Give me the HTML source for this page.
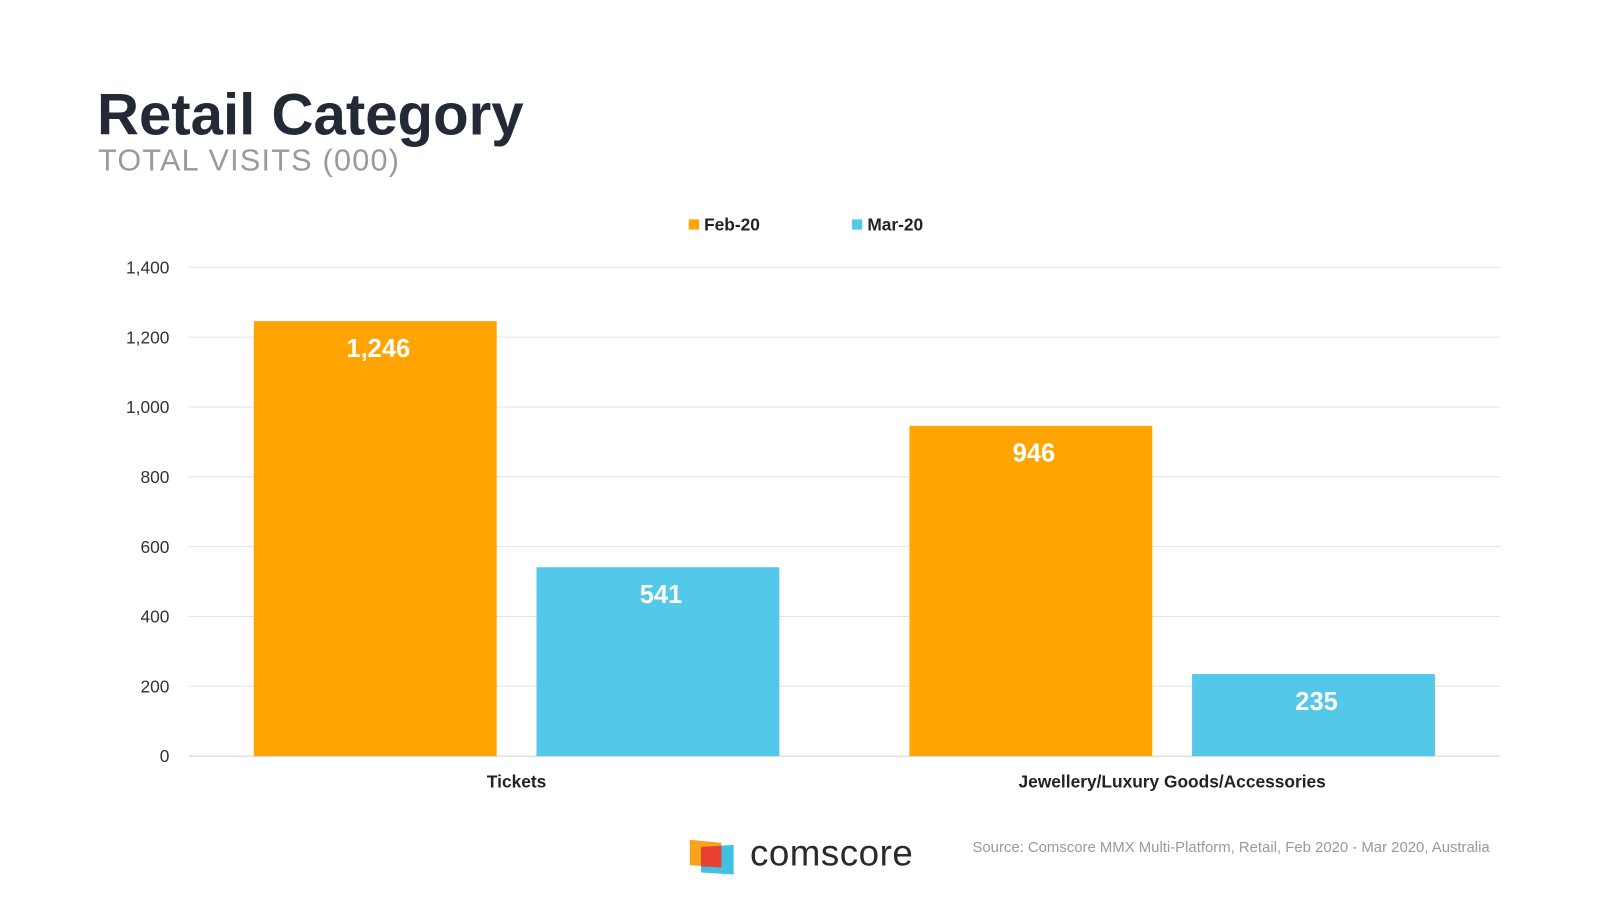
<!DOCTYPE html>
<html><head><meta charset="utf-8"><style>
body{margin:0;width:1600px;height:900px;background:#fff;font-family:"Liberation Sans",sans-serif;overflow:hidden}
#wrap{position:absolute;left:0;top:0;width:1568px;height:882px;transform:scale(1.0204);transform-origin:0 0}
#title{position:absolute;left:95px;top:80px;font-size:57px;font-weight:bold;color:#232a36;letter-spacing:0px}
#sub{position:absolute;left:96px;top:141px;font-size:30px;color:#9a9a9a;letter-spacing:1.2px}
#src{position:absolute;left:953px;top:823px;font-size:14.6px;color:#9a9a9a}
#logo-text{position:absolute;left:735px;top:815px;font-size:36px;color:#2a2a2a;letter-spacing:0.5px}
</style></head><body>
<div id="wrap">
<div id="title">Retail Category</div>
<div id="sub">TOTAL VISITS (000)</div>
<svg id="chart" width="1568" height="882" style="position:absolute;left:0;top:0"></svg>
<svg width="50" height="40" style="position:absolute;left:675px;top:820px">
<polygon points="1,3 32,6 32,30 1,28" fill="#f9a21b"/>
<polygon points="12,10 44,8 44,37 12,35" fill="#42c0e4"/>
<polygon points="12,10 32,9 32,30 12,29" fill="#e84133"/>
</svg>
<div id="logo-text">comscore</div>
<div id="src">Source: Comscore MMX Multi-Platform, Retail, Feb 2020 - Mar 2020, Australia</div>
</div>
<script>
const categories=["Tickets","Jewellery/Luxury Goods/Accessories"];
const feb=[1246,946];
const mar=[541,235];
const seriesNames=["Feb-20","Mar-20"];
const ticks=[0,200,400,600,800,1000,1200,1400];
const colors=["#ffa400","#53c8e8"];
const svg=document.getElementById('chart');
const NS="http://www.w3.org/2000/svg";
const x0=185,x1=1470,yb=741,yt=262,ymax=1400;
const y=v=>yb-(v/ymax)*(yb-yt);
function mk(t,a,p){const e=document.createElementNS(NS,t);for(const k in a)e.setAttribute(k,a[k]);(p||svg).appendChild(e);return e;}
ticks.forEach(t=>{
  const l=mk('line',{x1:x0,x2:x1,y1:y(t),y2:y(t),stroke:t===0?'#d0d0d0':'#e2e2e2','stroke-width':1});
  
  
  const tx=mk('text',{x:166,y:y(t)+6,'text-anchor':'end','font-size':17,fill:'#333'});
  tx.textContent=t.toLocaleString('en-US');
  
  
});
const cw=(x1-x0)/categories.length,bw=238,gap=39;
const series=[feb,mar];
categories.forEach((c,i)=>{
  const cx=x0+cw*(i+0.5);
  series.forEach((s,j)=>{
    const bx=j===0?cx-gap/2-bw:cx+gap/2;
    const r=mk('rect',{x:bx,y:y(s[i]),width:bw,height:yb-y(s[i]),fill:colors[j]});
    
    
    const t=mk('text',{x:bx+bw/2+3,y:y(s[i])+35,'text-anchor':'middle','font-size':25,'font-weight':'bold',fill:'#fff'});
    t.textContent=s[i].toLocaleString('en-US');
    
    
  });
  const lt=mk('text',{x:cx,y:772,'text-anchor':'middle','font-size':17,'font-weight':'bold',fill:'#222'});
  lt.textContent=c;
  
  
});
const lx=[675,835];
seriesNames.forEach((n,j)=>{
  const g=mk('g',{});
  
  
  mk('rect',{x:lx[j],y:215,width:10,height:10,fill:colors[j]},g);
  const t=mk('text',{x:lx[j]+15,y:226,'font-size':17,'font-weight':'bold',fill:'#222'},g);
  t.textContent=n;
});
</script>
</body></html>
